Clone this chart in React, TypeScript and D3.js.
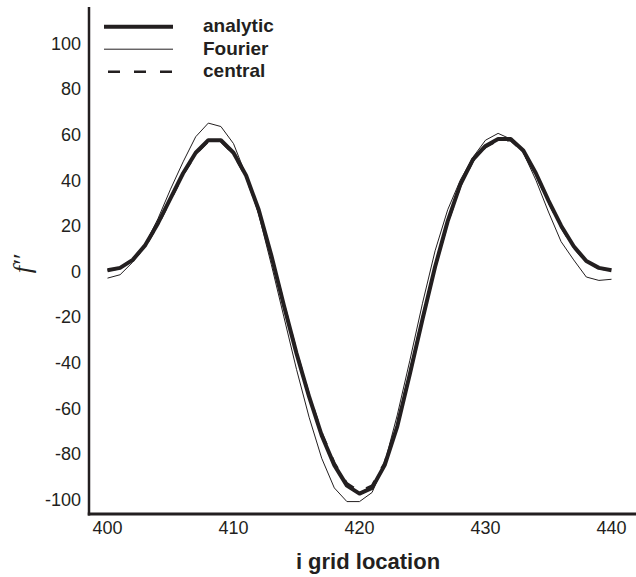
import React from "react";
import * as d3 from "d3";

const gridX: number[] = [400,401,402,403,404,405,406,407,408,409,410,411,412,413,414,415,416,417,418,419,420,421,422,423,424,425,426,427,428,429,430,431,432,433,434,435,436,437,438,439,440];

const analytic: number[] = [0.5,1.5,5,11.5,21,32,43,52,57.5,57.5,52,42,27,7,-15,-36,-55,-72,-85,-94,-97.5,-95,-85,-68,-45,-21,2,22,38,49,55,58,58,53,43,31,20,11,4.5,1.5,0.5];

const fourier: number[] = [-3,-1.5,4,12,23,36,48,59,65,63.5,56,42,25,3,-20,-43,-64,-82,-95,-101,-101,-97,-84,-63,-39,-14,9,27,40,50,57.5,60.5,58,52,40,26,13,5,-2.5,-4,-3.5];

const central: number[] = [0.4,1.4,4.8,11,20.5,31.5,42.5,51.5,57,57,51.5,41.5,26.5,7,-14.5,-35.5,-54.5,-71,-84,-93,-96.5,-94,-84,-67,-44.5,-20.5,2,21.5,37.5,48.5,54.5,57.5,57.5,52.5,42.5,30.5,19.5,10.5,4.3,1.4,0.4];

const yTicks: number[] = [100,80,60,40,20,0,-20,-40,-60,-80,-100];
const xTicks: number[] = [400,410,420,430,440];

const legendItems = [
  { label: "analytic", width: 4, dash: "none" },
  { label: "Fourier", width: 1, dash: "none" },
  { label: "central", width: 2.5, dash: "12,14" },
];

const W = 636;
const H = 577;
const INK = "#231f20";

export default function App() {
  const x = d3.scaleLinear().domain([400, 440]).range([107.5, 611.5]);
  const y = d3.scaleLinear().domain([-100, 100]).range([499.3, 43.3]);
  const line = (vals: number[]) =>
    d3.line<number>().x((_, i) => x(gridX[i])).y((d) => y(d))(vals) || "";

  const axisLeftX = 89;
  const axisBottomY = 514;
  const font = "'Liberation Sans', Arial, Helvetica, sans-serif";

  return (
    <svg width={W} height={H} style={{ position: "absolute", left: 0, top: 0, background: "#fff" }}>
      <rect width={W} height={H} fill="#fff" />
      {/* curves */}
      <path d={line(fourier)} fill="none" stroke={INK} strokeWidth={1} strokeLinejoin="round" />
      <path d={line(central)} fill="none" stroke={INK} strokeWidth={2.5} strokeDasharray="12,14" />
      <path d={line(analytic)} fill="none" stroke={INK} strokeWidth={4} strokeLinejoin="round" />

      {/* axes */}
      <line x1={axisLeftX} x2={axisLeftX} y1={7} y2={axisBottomY + 1.5} stroke={INK} strokeWidth={2.5} />
      <line x1={axisLeftX - 1.25} x2={W} y1={axisBottomY} y2={axisBottomY} stroke={INK} strokeWidth={3} />

      {yTicks.map((t) => (
        <text key={"y" + t} x={81} y={y(t)} dy="0.36em" textAnchor="end" fontFamily={font} fontSize={18} fill={INK}>
          {t}
        </text>
      ))}
      {xTicks.map((t) => (
        <text key={"x" + t} x={x(t)} y={534} textAnchor="middle" fontFamily={font} fontSize={18} fill={INK}>
          {t}
        </text>
      ))}

      <text x={368} y={569} textAnchor="middle" fontFamily={font} fontWeight="bold" fontSize={22} fill={INK}>
        i grid location
      </text>

      <text
        transform="translate(31,264) rotate(-90)"
        textAnchor="middle"
        fontFamily="'Liberation Serif', 'Times New Roman', serif"
        fontStyle="italic"
        fontSize={26}
        fill={INK}
      >
        f′′
      </text>

      {/* legend */}
      {legendItems.map((item, i) => {
        const ly = 26.7 + i * 22.5;
        return (
          <g key={item.label}>
            <line
              x1={item.dash === "none" ? 104 : 108}
              x2={173}
              y1={ly}
              y2={ly}
              stroke={INK}
              strokeWidth={item.width}
              strokeDasharray={item.dash}
            />
            <text x={203} y={ly + 5.5} fontFamily={font} fontWeight="bold" fontSize={19} fill={INK}>
              {item.label}
            </text>
          </g>
        );
      })}
    </svg>
  );
}
